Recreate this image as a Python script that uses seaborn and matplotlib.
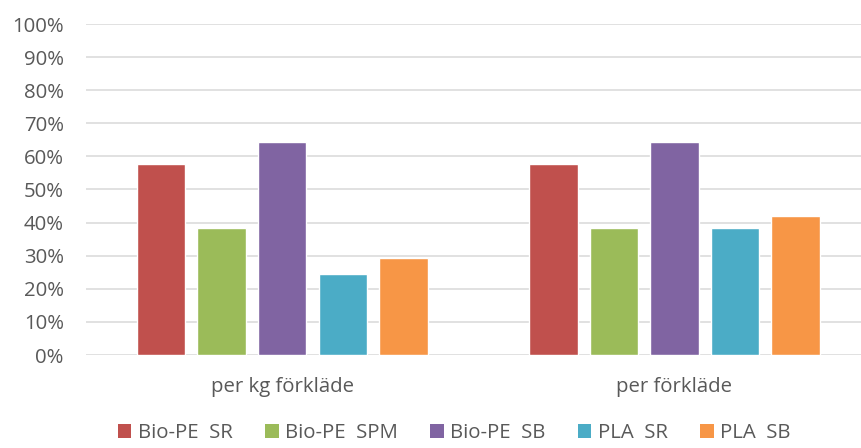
import matplotlib
matplotlib.use("Agg")
import matplotlib.pyplot as plt
import matplotlib.patches as mpatches
from matplotlib.ticker import PercentFormatter, MultipleLocator
import seaborn as sns
import pandas as pd

# Data
categories = ["per kg förkläde", "per förkläde"]
series = ["Bio-PE  SR", "Bio-PE  SPM", "Bio-PE  SB", "PLA  SR", "PLA  SB"]
bio_pe_sr = [0.576, 0.576]
bio_pe_spm = [0.385, 0.385]
bio_pe_sb = [0.642, 0.642]
pla_sr = [0.246, 0.383]
pla_sb = [0.293, 0.421]
colors = ["#C0504D", "#9BBB59", "#8064A2", "#4BACC6", "#F79646"]

values = [bio_pe_sr, bio_pe_spm, bio_pe_sb, pla_sr, pla_sb]
rows = []
for name, vals in zip(series, values):
    for cat, v in zip(categories, vals):
        rows.append({"kategori": cat, "serie": name, "andel": v})
df = pd.DataFrame(rows)

sns.set_theme(style="white")
plt.rcParams["font.family"] = ["Open Sans", "DejaVu Sans"]

FS = 14.7
TEXT = "#595959"

fig = plt.figure(figsize=(8.62, 4.48), dpi=100)
ax = fig.add_axes([86 / 862, 1 - 355 / 448, 1 - 86 / 862, 331 / 448])

sns.barplot(data=df, x="kategori", y="andel", hue="serie", order=categories,
            hue_order=series, palette=colors, width=0.772, gap=0.2,
            saturation=1, errorbar=None, ax=ax, legend=False, zorder=3)

ax.set_ylim(0, 1)
ax.set_xlim(-0.5, 1.478)
ax.yaxis.set_major_locator(MultipleLocator(0.1))
ax.yaxis.set_major_formatter(PercentFormatter(1.0, decimals=0))
ax.grid(axis="y", color="#D9D9D9", linewidth=1.1, zorder=0)
ax.set_axisbelow(True)
for s in ax.spines.values():
    s.set_visible(False)
ax.set_xlabel("")
ax.set_ylabel("")
ax.tick_params(axis="y", length=0, pad=16, labelsize=FS, labelcolor=TEXT)
ax.tick_params(axis="x", length=0, pad=15.5, labelsize=FS, labelcolor=TEXT)

handles = [mpatches.Patch(facecolor=c, edgecolor="none") for c in colors]
fig.legend(handles, series, loc="center", bbox_to_anchor=(0.527, 0.033),
           ncol=5, frameon=False, fontsize=FS, labelcolor=TEXT,
           handlelength=0.65, handleheight=0.65, handletextpad=0.31,
           columnspacing=1.6, borderaxespad=0, borderpad=0)

fig.savefig("out.png", dpi=100)
